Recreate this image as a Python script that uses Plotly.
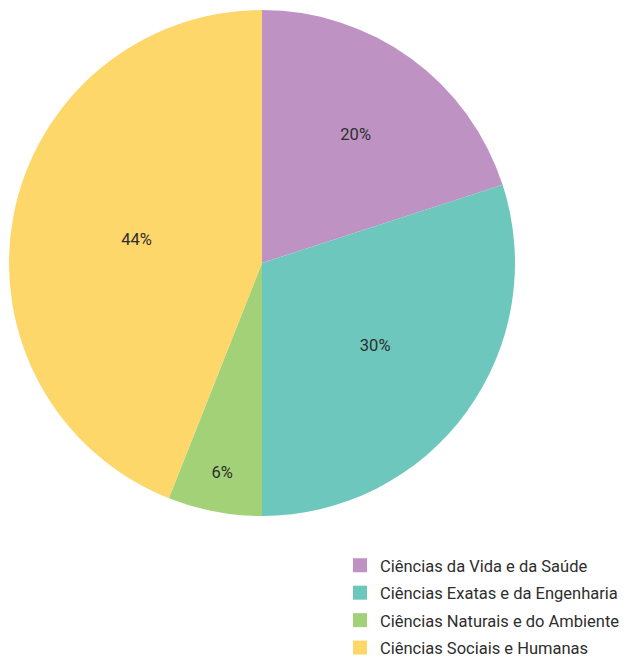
import plotly.graph_objects as go

# Distribuição por área científica
categorias = [
    "Ciências da Vida e da Saúde",
    "Ciências Exatas e da Engenharia",
    "Ciências Naturais e do Ambiente",
    "Ciências Sociais e Humanas",
]
percentagens = [20, 30, 6, 44]
cores = ["#BE93C4", "#6DC7BC", "#A3D178", "#FDD76A"]

W, H = 626, 657
cx, cy, r = 262, 263, 253
fonte = "Roboto, Inter, sans-serif"
cor_texto = "#2E2E2E"

fig = go.Figure()

fig.add_trace(
    go.Pie(
        labels=categorias,
        values=percentagens,
        sort=False,
        direction="clockwise",
        rotation=0,
        marker=dict(colors=cores, line=dict(width=0)),
        texttemplate="%{percent:.0%}",
        textposition="inside",
        insidetextorientation="horizontal",
        textfont=dict(family=fonte, size=16.5, color=cor_texto),
        hoverinfo="label+percent",
        showlegend=False,
        domain=dict(
            x=[(cx - r) / W, (cx + r) / W],
            y=[1 - (cy + r) / H, 1 - (cy - r) / H],
        ),
    )
)

# Legenda: um quadrado de cor por área, espaçados em grupos
for i, (nome, cor) in enumerate(zip(categorias, cores)):
    fig.add_trace(
        go.Scatter(
            x=[None],
            y=[None],
            mode="markers",
            name=nome,
            legendgroup=f"g{i}",
            marker=dict(symbol="square", size=14, color=cor),
            hoverinfo="skip",
        )
    )

fig.update_layout(
    width=W,
    height=H,
    margin=dict(l=0, r=0, t=0, b=0, autoexpand=False),
    paper_bgcolor="white",
    plot_bgcolor="white",
    xaxis=dict(visible=False),
    yaxis=dict(visible=False),
    showlegend=True,
    legend=dict(
        x=340 / W,
        y=1 - 548 / H,
        xanchor="left",
        yanchor="top",
        maxheight=300,
        font=dict(family=fonte, size=16.5, color=cor_texto),
        itemwidth=30,
        tracegroupgap=3,
        bgcolor="rgba(0,0,0,0)",
    ),
)

fig.write_html("out.html")
